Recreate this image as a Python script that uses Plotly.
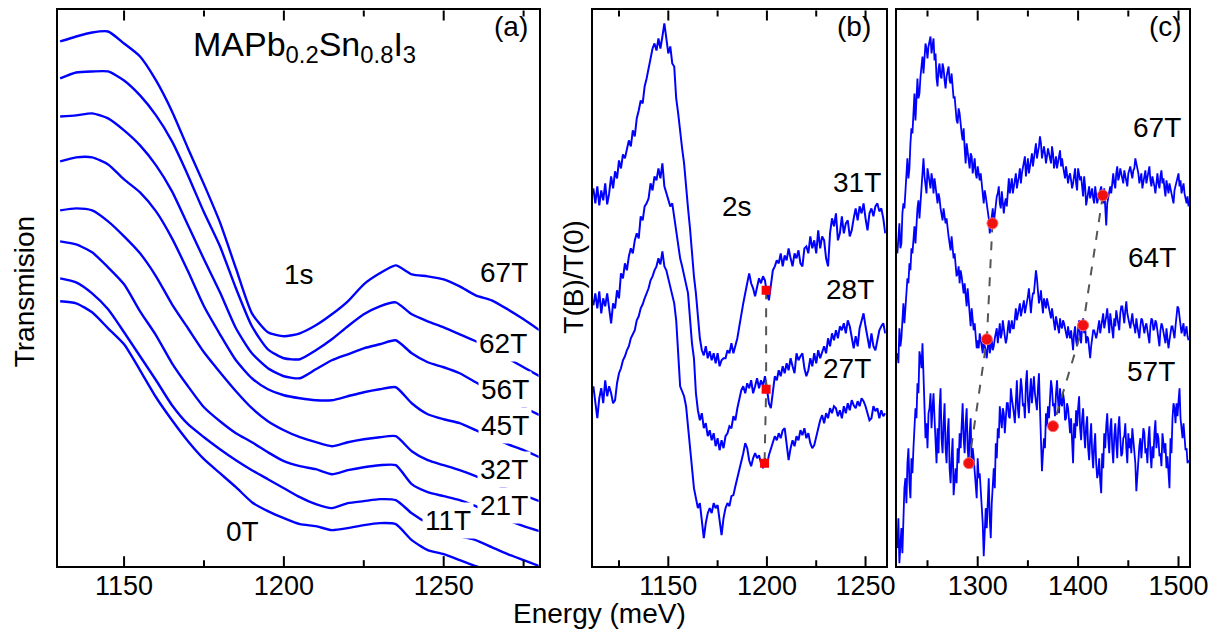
import plotly.graph_objects as go

W, H = 1223, 640
FONT = "Liberation Sans, Arial, sans-serif"
BLUE = "#0000ff"

# ---------------- Panel (a): transmission spectra (readings, arbitrary depth units) -------------
energy_a = [1130, 1135, 1140, 1145, 1150, 1155, 1160, 1165, 1170, 1175, 1180, 1185, 1190, 1195, 1200,
            1205, 1210, 1215, 1220, 1225, 1230, 1235, 1240, 1245, 1250, 1255, 1260, 1265, 1270, 1275, 1280]
a_67T = [33, 28, 24, 23, 35, 48, 72, 103, 140, 176, 214, 260, 305, 324, 328, 325, 317, 306, 293, 276, 265, 257, 266, 268, 271, 278, 287, 292, 301, 311, 322]
a_62T = [70, 64, 63, 63, 72, 87, 107, 133, 167, 204, 238, 280, 318, 341, 350, 351, 342, 331, 318, 306, 298, 294, 306, 313, 319, 326, 333, 341, 350, 359, 368]
a_56T = [108, 107, 105, 110, 122, 137, 157, 183, 217, 251, 284, 320, 345, 360, 368, 370, 361, 352, 346, 340, 336, 332, 345, 354, 359, 365, 374, 383, 391, 399, 407]
a_45T = [153, 149, 149, 156, 171, 184, 203, 230, 263, 298, 326, 352, 370, 381, 387, 390, 392, 392, 388, 384, 381, 379, 395, 406, 411, 415, 422, 429, 436, 442, 449]
a_32T = [202, 200, 202, 213, 228, 245, 268, 296, 320, 344, 364, 383, 400, 413, 422, 429, 434, 438, 434, 431, 429, 428, 443, 452, 457, 462, 468, 475, 481, 487, 493]
a_21T = [233, 236, 244, 259, 276, 303, 327, 355, 378, 399, 413, 425, 434, 444, 453, 458, 461, 466, 462, 459, 457, 457, 476, 484, 488, 492, 498, 505, 512, 518, 523]
a_11T = [270, 274, 285, 301, 324, 348, 372, 397, 416, 429, 441, 452, 462, 471, 480, 489, 496, 500, 495, 493, 491, 492, 505, 515, 522, 528, 532, 539, 546, 552, 558]
a_0T = [293, 295, 304, 320, 336, 362, 389, 412, 433, 451, 465, 479, 494, 503, 510, 516, 518, 522, 520, 517, 515, 516, 532, 542, 546, 552, 558, 563, 568, 573, 578]
series_a = [a_67T, a_62T, a_56T, a_45T, a_32T, a_21T, a_11T, a_0T]

# ---------------- Panel (b): T(B)/T(0), 2s region ----------------
energy_b = list(range(1112, 1261))
b_31T = [180, 195, 178, 197, 182, 192, 175, 196, 185, 168, 180, 163, 170, 152, 160, 146, 150, 140, 132, 138,
         122, 128, 110, 102, 92, 95, 78, 70, 60, 48, 40, 35, 42, 30, 40, 28, 15, 30, 45, 38,
         55, 58, 90, 105, 125, 140, 155, 180, 200, 220, 245, 268, 285, 305, 330, 342, 347, 338, 350, 343,
         352, 345, 355, 345, 358, 352, 350, 350, 342, 345, 335, 345, 338, 330, 318, 305, 295, 285, 275, 265,
         275, 280, 288, 278, 270, 275, 268, 272, 285, 292, 275, 262, 258, 252, 255, 245, 258, 247, 252, 240,
         250, 258, 245, 250, 242, 255, 258, 240, 238, 245, 228, 240, 232, 245, 222, 240, 228, 232, 250, 258,
         225, 210, 218, 205, 232, 225, 208, 225, 215, 212, 228, 222, 210, 200, 212, 198, 205, 195, 210, 222,
         205, 200, 208, 198, 195, 203, 200, 210, 225]
b_28T = [297, 285, 300, 283, 305, 290, 298, 285, 300, 315, 295, 300, 282, 290, 265, 270, 255, 262, 248, 240,
         245, 232, 225, 230, 208, 212, 198, 195, 190, 175, 182, 168, 172, 160, 170, 155, 178, 185, 190, 198,
         195, 210, 222, 235, 250, 258, 268, 275, 285, 310, 335, 350, 385, 402, 412, 405, 420, 415, 428, 422,
         432, 425, 438, 430, 442, 432, 440, 428, 425, 418, 420, 408, 412, 400, 392, 382, 378, 385, 375, 380,
         372, 385, 378, 370, 380, 372, 378, 368, 380, 395, 400, 385, 368, 372, 362, 368, 358, 365, 355, 362,
         350, 358, 365, 345, 352, 348, 345, 360, 368, 362, 350, 358, 345, 355, 342, 350, 345, 338, 345, 330,
         338, 325, 332, 322, 330, 318, 322, 315, 325, 312, 318, 330, 340, 328, 338, 320, 312, 305, 318, 330,
         340, 325, 338, 342, 330, 322, 318, 315, 325]
b_27T = [378, 395, 410, 390, 380, 395, 372, 388, 378, 385, 395, 392, 375, 365, 360, 352, 348, 342, 338, 330,
         325, 322, 312, 308, 300, 296, 290, 285, 280, 272, 268, 262, 258, 250, 256, 243, 258, 262, 270, 280,
         288, 295, 312, 340, 378, 383, 388, 398, 420, 440, 465, 480, 490, 500, 495, 510, 530, 515, 505, 500,
         505, 495, 500, 497, 510, 527, 510, 500, 495, 498, 488, 487, 478, 470, 460, 455, 445, 435, 440, 452,
         458, 450, 445, 450, 447, 455, 460, 450, 458, 447, 440, 435, 428, 432, 425, 430, 422, 420, 435, 452,
         440, 432, 438, 428, 432, 422, 427, 420, 430, 425, 435, 440, 437, 428, 420, 412, 407, 415, 405, 410,
         400, 405, 398, 400, 408, 402, 410, 398, 405, 395, 402, 392, 397, 400, 393, 398, 390, 393, 398, 405,
         412, 410, 398, 403, 400, 410, 402, 408, 405]
series_b = [b_31T, b_28T, b_27T]
# 2s marker readings (energy, depth)
mark_b_E = [1199.6, 1199.6, 1198.8]
mark_b_v = [282, 381, 455]

# ---------------- Panel (c): T(B)/T(0), high energy ----------------
energy_c = list(range(1220, 1511))
c_67T = [245, 228, 215, 240, 235, 205, 195, 200, 180, 165, 150, 170, 160, 135, 120, 125, 100, 85, 112, 95, 70, 90, 85, 68, 55, 48, 65, 42, 35, 40, 50, 38, 32, 28, 45, 35, 30, 52, 45, 70,
         78, 60, 55, 68, 70, 55, 60, 72, 80, 68, 62, 58, 72, 75, 65, 80, 90, 88, 100, 112, 115, 100, 105, 118, 125, 132, 120, 140, 155, 135, 142, 152, 160, 145, 148, 165, 155, 150, 165, 170,
         158, 168, 172, 165, 180, 185, 195, 182, 188, 195, 200, 210, 225, 215, 208, 200, 215, 205, 198, 188, 185, 178, 195, 200, 183, 192, 205, 195, 190, 198, 180, 170, 185, 175, 170, 185, 178, 170, 165, 180,
         175, 168, 160, 175, 165, 160, 155, 148, 168, 158, 150, 165, 160, 152, 145, 158, 150, 142, 135, 150, 145, 138, 128, 135, 150, 142, 138, 145, 155, 148, 140, 145, 150, 155, 138, 145, 160, 152, 148, 160,
         155, 148, 142, 158, 150, 158, 165, 170, 158, 168, 175, 168, 165, 172, 180, 175, 168, 160, 175, 182, 160, 165, 172, 168, 180, 188, 168, 178, 197, 190, 185, 178, 190, 185, 180, 190, 195, 178, 185, 195,
         190, 185, 182, 178, 188, 195, 180, 200, 217, 195, 190, 182, 178, 185, 170, 165, 175, 180, 165, 158, 172, 168, 160, 165, 170, 175, 162, 168, 172, 178, 165, 160, 158, 165, 170, 162, 160, 150, 155, 162,
         165, 175, 170, 165, 180, 172, 168, 162, 175, 168, 165, 158, 172, 178, 168, 172, 178, 185, 170, 165, 175, 180, 168, 162, 175, 170, 180, 188, 172, 178, 185, 175, 180, 185, 190, 195, 182, 178, 175, 170,
         165, 178, 172, 185, 180, 175, 185, 190, 195, 188, 198]
c_64T = [345, 355, 320, 338, 330, 310, 295, 315, 300, 285, 270, 275, 255, 262, 240, 245, 225, 218, 235, 215, 200, 192, 210, 195, 178, 165, 150, 168, 175, 185, 160, 168, 172, 180, 165, 172, 185, 170, 178, 190,
         195, 185, 190, 200, 205, 212, 200, 208, 215, 210, 222, 228, 235, 242, 228, 238, 250, 245, 258, 268, 265, 258, 275, 262, 268, 278, 285, 275, 290, 298, 280, 295, 310, 318, 300, 312, 322, 315, 328, 340,
         332, 340, 325, 335, 338, 345, 330, 338, 342, 350, 335, 328, 345, 338, 332, 342, 338, 330, 325, 320, 335, 325, 315, 330, 325, 312, 318, 328, 335, 330, 320, 312, 325, 318, 312, 320, 320, 310, 300, 312,
         305, 298, 295, 308, 302, 295, 292, 305, 300, 292, 288, 280, 298, 305, 292, 285, 285, 275, 262, 270, 285, 295, 290, 282, 295, 305, 290, 298, 300, 290, 295, 302, 305, 310, 300, 308, 315, 322, 308, 315,
         318, 325, 310, 318, 320, 312, 315, 322, 325, 330, 318, 325, 330, 322, 335, 342, 325, 318, 332, 338, 320, 312, 328, 335, 318, 310, 325, 318, 335, 328, 330, 340, 350, 338, 330, 322, 322, 328, 330, 325,
         318, 312, 325, 318, 312, 305, 320, 315, 308, 300, 318, 325, 305, 312, 320, 330, 310, 318, 302, 310, 315, 322, 305, 298, 298, 305, 315, 302, 293, 305, 310, 318, 320, 312, 305, 315, 318, 325, 310, 318,
         325, 330, 318, 310, 312, 320, 325, 318, 315, 322, 328, 335, 318, 310, 312, 322, 320, 312, 315, 325, 330, 338, 322, 315, 318, 325, 328, 335, 320, 330, 340, 332, 325, 318, 318, 325, 330, 318, 305, 298,
         300, 308, 315, 325, 320, 315, 328, 322, 318, 328, 332]
c_57T = [540, 510, 555, 530, 520, 545, 500, 480, 470, 495, 455, 440, 475, 490, 450, 465, 440, 420, 400, 410, 375, 385, 343, 350, 360, 335, 370, 400, 430, 415, 440, 405, 400, 385, 420, 400, 385, 410, 440, 455,
         420, 445, 400, 380, 430, 445, 415, 395, 440, 455, 425, 410, 460, 475, 450, 430, 487, 470, 460, 475, 440, 455, 425, 440, 410, 395, 430, 445, 415, 400, 440, 455, 425, 410, 460, 440, 450, 465, 475, 490,
         450, 470, 465, 480, 490, 515, 548, 525, 500, 520, 485, 470, 510, 530, 495, 475, 460, 480, 435, 450, 420, 430, 398, 410, 420, 400, 405, 425, 412, 395, 395, 408, 410, 380, 390, 402, 405, 415, 385, 372,
         400, 410, 388, 370, 380, 398, 395, 410, 375, 362, 392, 405, 385, 370, 395, 380, 368, 385, 392, 402, 380, 365, 400, 430, 463, 445, 430, 440, 405, 418, 398, 410, 390, 372, 380, 398, 395, 408, 385, 372,
         392, 405, 380, 395, 398, 385, 392, 412, 410, 395, 400, 420, 425, 410, 440, 455, 415, 430, 402, 418, 400, 388, 420, 432, 410, 400, 425, 440, 418, 408, 440, 452, 430, 415, 445, 460, 438, 425, 455, 470,
         465, 450, 473, 485, 445, 460, 425, 440, 418, 405, 430, 445, 420, 410, 440, 455, 428, 415, 435, 450, 420, 408, 430, 448, 445, 430, 428, 415, 440, 455, 425, 440, 430, 445, 420, 432, 440, 455, 483, 465,
         450, 438, 430, 450, 435, 420, 425, 445, 440, 455, 430, 418, 445, 460, 438, 450, 425, 412, 440, 425, 430, 448, 445, 458, 425, 438, 445, 435, 460, 448, 467, 480, 430, 445, 410, 395, 400, 415, 395, 408,
         393, 380, 410, 425, 430, 415, 425, 442, 440, 455, 452]
series_c = [c_67T, c_64T, c_57T]
# marker readings (energy, depth): left and right branches, ordered 67T, 64T, 57T
mark_c_left_E = [1314.7, 1309.1, 1291.2]
mark_c_left_v = [215, 331, 455]
mark_c_right_E = [1424.6, 1405.0, 1375.0]
mark_c_right_v = [187, 317, 418]

# axis tick values
ticks_a, minor_a = [1150, 1200, 1250], [1175, 1225, 1275]
ticks_b, minor_b = [1150, 1200, 1250], [1125, 1175, 1225]
ticks_c, minor_c = [1300, 1400, 1500], [1250, 1350, 1450]

for s in series_a:
    assert len(s) == len(energy_a)
for s in series_b:
    assert len(s) == len(energy_b), len(s)
for s in series_c:
    assert len(s) == len(energy_c), len(s)


# readings were taken as depth below the panel top; convert to normalized signal (0 = bottom, 1 = top)
def to_signal(vals):
    return [(558 - v) / 556 for v in vals]


fig = go.Figure()
for s in series_a:
    fig.add_trace(go.Scatter(x=energy_a, y=to_signal(s), mode="lines",
                             line=dict(color=BLUE, width=2.4, shape="spline", smoothing=0.6),
                             xaxis="x", yaxis="y", hoverinfo="skip", showlegend=False))
for s in series_b:
    fig.add_trace(go.Scatter(x=energy_b, y=to_signal(s), mode="lines", line=dict(color=BLUE, width=2.0),
                             xaxis="x2", yaxis="y2", hoverinfo="skip", showlegend=False))
for s in series_c:
    fig.add_trace(go.Scatter(x=energy_c, y=to_signal(s), mode="lines", line=dict(color=BLUE, width=1.8),
                             xaxis="x3", yaxis="y3", hoverinfo="skip", showlegend=False))

DASH = dict(color="#555555", width=2, dash="dash")
fig.add_trace(go.Scatter(x=mark_b_E, y=to_signal(mark_b_v), mode="lines", line=DASH,
                         xaxis="x2", yaxis="y2", hoverinfo="skip", showlegend=False))
fig.add_trace(go.Scatter(x=mark_b_E, y=to_signal(mark_b_v), mode="markers",
                         marker=dict(symbol="square", size=9, color="#ff0000", line=dict(width=0)),
                         xaxis="x2", yaxis="y2", hoverinfo="skip", showlegend=False))
for ex, vy in [(mark_c_left_E, mark_c_left_v), (mark_c_right_E, mark_c_right_v)]:
    fig.add_trace(go.Scatter(x=ex, y=to_signal(vy), mode="lines", line=DASH,
                             xaxis="x3", yaxis="y3", hoverinfo="skip", showlegend=False))
for ex, vy in [(mark_c_left_E, mark_c_left_v), (mark_c_right_E, mark_c_right_v)]:
    fig.add_trace(go.Scatter(x=ex, y=to_signal(vy), mode="markers",
                             marker=dict(symbol="circle", size=11, color="#f01010",
                                         line=dict(width=1, color="#ff6a6a")),
                             xaxis="x3", yaxis="y3", hoverinfo="skip", showlegend=False))

Y0, Y1 = 1 - 558 / H, 1 - 1.5 / H
PANEL_H = (Y1 - Y0) * H


def xstyle(dom, rng, vals, anchor):
    return dict(domain=dom, range=rng, anchor=anchor, showline=True, linecolor="black", linewidth=2,
                mirror=True, ticks="", tickmode="array", tickvals=vals, ticklabelstandoff=-6,
                showgrid=False, zeroline=False,
                tickfont=dict(family=FONT, size=27, color="black"))


def ystyle(anchor):
    return dict(domain=[Y0, Y1], range=[0, 1], showline=True, linecolor="black", linewidth=2, mirror=True,
                ticks="", showticklabels=False, showgrid=False, zeroline=False, anchor=anchor)


fig.update_layout(
    width=W, height=H, margin=dict(l=0, r=0, t=0, b=0),
    paper_bgcolor="white", plot_bgcolor="white",
    xaxis=xstyle([50.7 / W, 539 / W], [1129.3, 1279.7], ticks_a, "y"),
    yaxis=ystyle("x"),
    xaxis2=xstyle([594 / W, 891.7 / W], [1111.7, 1260.3], ticks_b, "y2"),
    yaxis2=ystyle("x2"),
    xaxis3=xstyle([902.7 / W, 1200 / W], [1219.3, 1510.8], ticks_c, "y3"),
    yaxis3=ystyle("x3"),
)

# inward tick marks on bottom and top edges of each panel
shapes = []
for xr, yr, major, minor in [("x", "y", ticks_a, minor_a), ("x2", "y2", ticks_b, minor_b),
                             ("x3", "y3", ticks_c, minor_c)]:
    for vals, length in [(major, 10), (minor, 6)]:
        f = length / PANEL_H
        for v in vals:
            for y0, y1 in [(0, f), (1, 1 - f)]:
                shapes.append(dict(type="line", xref=xr, yref=yr + " domain", x0=v, x1=v, y0=y0, y1=y1,
                                   line=dict(color="black", width=2), layer="above"))
fig.update_layout(shapes=shapes)

DY = 9  # vertical correction of annotation text box centre


def ann(text, x, y, size=28, bg=None):
    return dict(text=text, x=x / W, y=1 - (y - DY) / H, xref="paper", yref="paper", showarrow=False,
                font=dict(family=FONT, size=size, color="black"), xanchor="center", yanchor="middle",
                bgcolor=bg if bg else "rgba(0,0,0,0)", borderpad=2)


def vann(text, x, y, size=28):
    return dict(text=text, x=x / W, y=1 - y / H, xref="paper", yref="paper", showarrow=False,
                font=dict(family=FONT, size=size, color="black"), xanchor="center", yanchor="middle",
                textangle=-90)


anns = [
    ann("MAPb<sub>0.2</sub>Sn<sub>0.8</sub>I<sub>3</sub>", 301, 47, size=34),
    ann("(a)", 511, 27), ann("(b)", 859, 27), ann("(c)", 1176, 27),
    ann("1s", 296, 275), ann("2s", 741, 207),
    ann("67T", 504, 273, bg="white"), ann("62T", 503, 344, bg="white"), ann("56T", 505, 390, bg="white"),
    ann("45T", 505, 426, bg="white"), ann("32T", 504, 470, bg="white"), ann("21T", 504, 506, bg="white"),
    ann("11T", 447, 521, bg="white"), ann("0T", 238, 532),
    ann("31T", 862, 183), ann("28T", 855, 290), ann("27T", 852, 369),
    ann("67T", 1167, 128), ann("64T", 1162, 258), ann("57T", 1161, 372),
    vann("Transmision", 17, 283), vann("T(B)/T(0)", 574, 268),
    ann("Energy (meV)", 601, 614),
]
fig.update_layout(annotations=anns)

fig.write_html("out.html")
